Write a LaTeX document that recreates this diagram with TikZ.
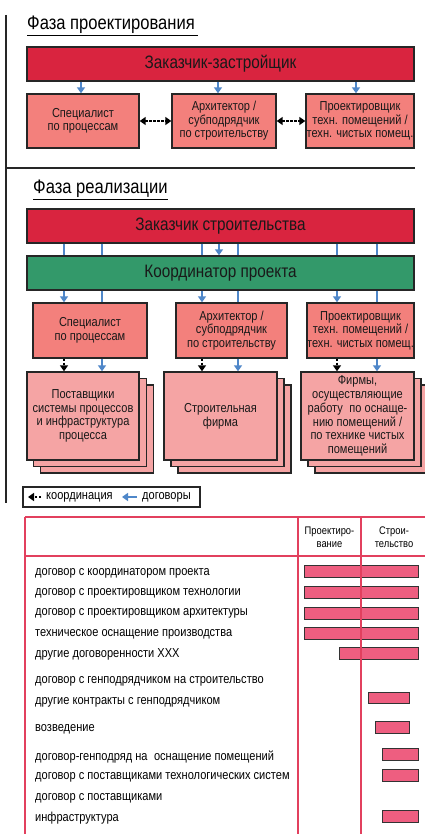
\documentclass[tikz,border=0pt]{standalone}
\usepackage{fontspec}
\setmainfont[FakeStretch=0.85]{Liberation Sans}
\usetikzlibrary{arrows.meta}
\definecolor{zred}{HTML}{D9243F}
\definecolor{zgreen}{HTML}{33996A}
\definecolor{zsalmon}{HTML}{F3807C}
\definecolor{zpink}{HTML}{F5A4A4}
\definecolor{zblue}{HTML}{4F87C9}
\definecolor{tline}{HTML}{E2405E}
\definecolor{tbar}{HTML}{EE5E80}
\newcommand\fsz[2]{\fontsize{#1}{#2}\selectfont}
\begin{document}
\begin{tikzpicture}[x=1pt,y=-1pt,
  frame/.style={draw=black!85,line width=1.4pt,inner sep=0pt,align=center,text=black!90},
  bigbox/.style={frame,minimum width=387pt,minimum height=34pt,font=\fsz{18}{20}},
  midbox/.style={frame,fill=zsalmon,minimum height=54pt,font=\fsz{13}{13.5}},
  stackbox/.style={frame,fill=zpink,minimum height=88pt,minimum width=113pt,font=\fsz{13}{13.7}},
  contract/.style={draw=zblue,line width=2pt,-{Triangle[length=6pt,width=8pt]}},
  cline/.style={draw=zblue,line width=2pt},
  coord/.style={draw=black,line width=2.2pt,dash pattern=on 2.5pt off 1.5pt,{Triangle[length=6pt,width=8pt]}-{Triangle[length=6pt,width=8pt]}},
  coordarrow/.style={draw=black,line width=2pt,dash pattern=on 2.5pt off 1.5pt,-{Triangle[length=6pt,width=8pt]}},
  title/.style={anchor=base west,inner sep=0pt,font=\fsz{19.5}{22}},
  rowtext/.style={anchor=west,inner sep=0pt,font=\fsz{13}{15}},
  headtext/.style={inner sep=0pt,align=center,font=\fsz{11}{13}},
  tline/.style={draw=tline,line width=1.2pt},
  bar/.style={draw=black!80,line width=1pt,fill=tbar},
  rule/.style={draw=black!85,line width=1.4pt}
]
\fill[white] (0,0) rectangle (425,834);
\useasboundingbox (0,0) rectangle (425,834);

% frame lines
\draw[rule] (6,15) -- (6,503);
\draw[rule] (6,168) -- (415,168);

% ===== Phase 1 =====
\node[title] (ph1) at (27,29.5) {Фаза проектирования};
\draw[line width=1.6pt] (27,35.5) -- (198,35.5);

\node[bigbox,fill=zred] (zz) at (220.5,64) {Заказчик-застройщик};
\node[midbox,minimum width=112pt] (sp) at (83,121) {Специалист\\по процессам};
\node[midbox,minimum width=104pt] (ar) at (224,121) {Архитектор /\\субподрядчик\\по строительству};
\node[midbox,minimum width=108pt] (pr) at (360,121) {Проектировщик\\техн. помещений /\\техн. чистых помещ.};

\coordinate (k1) at (81,0);
\coordinate (k2) at (218,0);
\coordinate (k3) at (356,0);
\draw[contract] (zz.south -| k1) -- (sp.north -| k1);
\draw[contract] (zz.south -| k2) -- (ar.north -| k2);
\draw[contract] (zz.south -| k3) -- (pr.north -| k3);
\draw[coord] (sp.east) -- (ar.west);
\draw[coord] (ar.east) -- (pr.west);

% ===== Phase 2 =====
\node[title] (ph2) at (33,194) {Фаза реализации};
\draw[line width=1.6pt] (33,199.5) -- (168,199.5);

\node[bigbox,fill=zred] (zs) at (220.5,226) {Заказчик строительства};
\node[bigbox,fill=zgreen] (ko) at (220.5,273) {Координатор проекта};

\node[midbox,minimum width=114pt,minimum height=55pt] (b1) at (90,330.5) {Специалист\\по процессам};
\node[midbox,minimum width=111pt,minimum height=55pt] (b2) at (231.5,330.5) {Архитектор /\\субподрядчик\\по строительству};
\node[midbox,minimum width=107pt,minimum height=55pt] (b3) at (360.5,330.5) {Проектировщик\\техн. помещений /\\техн. чистых помещ.};

% stacks (back copies first)
\node[stackbox] (s1c) at (97,429) {};
\node[stackbox] (s1b) at (90,422.5) {};
\node[stackbox,minimum width=112pt] (s1) at (83,416) {Поставщики\\системы процессов\\и инфраструктура\\процесса};
\node[stackbox] (s2c) at (234.5,429) {};
\node[stackbox] (s2b) at (227.5,422.5) {};
\node[stackbox] (s2) at (220.5,416) {Строительная\\фирма};
\node[stackbox] (s3c) at (371.5,429) {};
\node[stackbox] (s3b) at (364.5,422.5) {};
\node[stackbox] (s3) at (357.5,416) {Фирмы,\\осуществляющие\\работу\enspace по оснаще-\\нию помещений /\\по технике чистых\\помещений};

\coordinate (c1a) at (64,0);
\coordinate (c1b) at (102,0);
\coordinate (c2a) at (202,0);
\coordinate (c2m) at (219,0);
\coordinate (c2b) at (238,0);
\coordinate (c3a) at (337,0);
\coordinate (c3b) at (377,0);

\foreach \c in {c1a,c1b,c2a,c2b,c3a,c3b}{
  \draw[cline] (zs.south -| \c) -- (ko.north -| \c);
}
\draw[contract] (zs.south -| c2m) -- (ko.north -| c2m);

\draw[contract] (ko.south -| c1a) -- (b1.north -| c1a);
\draw[cline] (ko.south -| c1b) -- (b1.north -| c1b);
\draw[contract] (ko.south -| c2a) -- (b2.north -| c2a);
\draw[cline] (ko.south -| c2b) -- (b2.north -| c2b);
\draw[contract] (ko.south -| c3a) -- (b3.north -| c3a);
\draw[cline] (ko.south -| c3b) -- (b3.north -| c3b);

\draw[coordarrow] (b1.south -| c1a) -- (s1.north -| c1a);
\draw[contract] (b1.south -| c1b) -- (s1.north -| c1b);
\draw[coordarrow] (b2.south -| c2a) -- (s2.north -| c2a);
\draw[contract] (b2.south -| c2b) -- (s2.north -| c2b);
\draw[coordarrow] (b3.south -| c3a) -- (s3.north -| c3a);
\draw[contract] (b3.south -| c3b) -- (s3.north -| c3b);

% legend
\node[draw=black!85,line width=1.3pt,minimum width=177pt,minimum height=20pt,inner sep=0pt] (lg) at (111.5,497) {};
\coordinate (la1) at (41,497);
\coordinate (la2) at (28,497);
\coordinate (lb1) at (137,497);
\coordinate (lb2) at (122,497);
\draw[coordarrow] (la1) -- (la2);
\node[anchor=west,inner sep=0pt,font=\fsz{13}{15}] (lt1) at (46,497) {координация};
\draw[contract] (lb1) -- (lb2);
\node[anchor=west,inner sep=0pt,font=\fsz{13}{15}] (lt2) at (142,497) {договоры};

% ===== table =====
\draw[tline] (25,517) -- (425,517);
\draw[tline] (25,556) -- (425,556);
\draw[tline] (25,517) -- (25,834);
\draw[tline] (298,517) -- (298,834);
\node[headtext] (h1) at (329.5,537.5) {Проектиро-\\вание};
\node[headtext] (h2) at (394,537.5) {Строи-\\тельство};

\node[rowtext] (r1) at (35,573) {договор с координатором проекта};
\node[rowtext] (r2) at (35,593) {договор с проектировщиком технологии};
\node[rowtext] (r3) at (35,613.5) {договор с проектировщиком архитектуры};
\node[rowtext] (r4) at (35,634) {техническое оснащение производства};
\node[rowtext] (r5) at (35,654) {другие договоренности ХХХ};
\node[rowtext] (r6) at (35,681) {договор с генподрядчиком на строительство};
\node[rowtext] (r7) at (35,702) {другие контракты с генподрядчиком};
\node[rowtext] (r8) at (35,729) {возведение};
\node[rowtext] (r9) at (35,757) {договор-генподряд на\enspace оснащение помещений};
\node[rowtext] (r10) at (35,777.5) {договор с поставщиками технологических систем};
\node[rowtext] (r11) at (35,798) {договор с поставщиками};
\node[rowtext] (r12) at (35,818) {инфраструктура};

\draw[bar] (304,565) rectangle (418,577);
\draw[bar] (304,586) rectangle (418,598);
\draw[bar] (304,607) rectangle (418,619);
\draw[bar] (304,627) rectangle (418,639);
\draw[bar] (339,647) rectangle (418,659);
\draw[bar] (368,692) rectangle (409,703);
\draw[bar] (375,721) rectangle (409,733);
\draw[bar] (382,748) rectangle (418,760);
\draw[bar] (382,769) rectangle (418,781);
\draw[bar] (382,810) rectangle (418,822);

\draw[tline] (361,517) -- (361,834);
\end{tikzpicture}
\end{document}
